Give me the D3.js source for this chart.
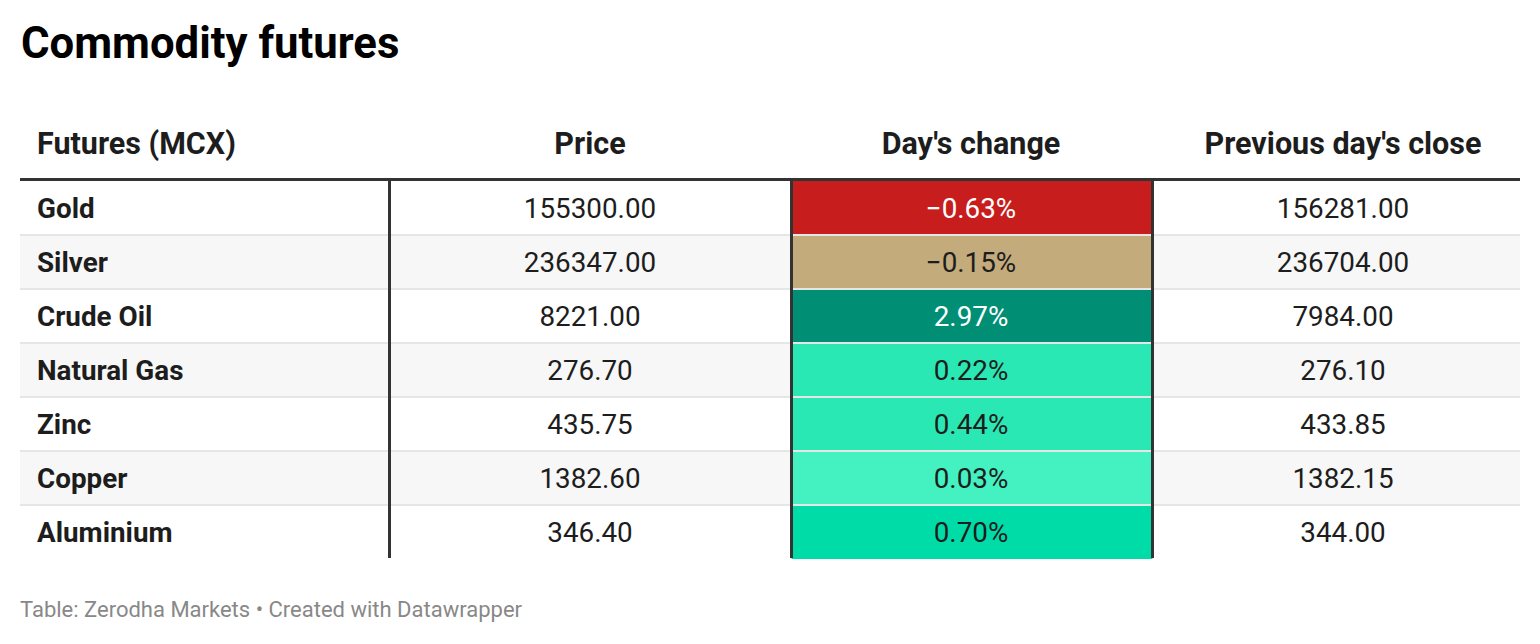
<!DOCTYPE html>
<html>
<head>
<meta charset="utf-8">
<script src="https://cdn.jsdelivr.net/npm/d3@7"></script>
<style>
  html, body { margin: 0; padding: 0; background: #fff; }
  svg { display: block; font-family: Roboto, "Noto Sans", sans-serif; }
</style>
</head>
<body>
<svg id="chart" width="1540" height="644"></svg>
<script>
// ---- data ----
const title = "Commodity futures";
const headers = ["Futures (MCX)", "Price", "Day's change", "Previous day's close"];
const commodities = ["Gold", "Silver", "Crude Oil", "Natural Gas", "Zinc", "Copper", "Aluminium"];
const prices = [155300.00, 236347.00, 8221.00, 276.70, 435.75, 1382.60, 346.40];
const changes = [-0.63, -0.15, 2.97, 0.22, 0.44, 0.03, 0.70];
const prevClose = [156281.00, 236704.00, 7984.00, 276.10, 433.85, 1382.15, 344.00];
const footer = "Table: Zerodha Markets • Created with Datawrapper";

// ---- layout ----
const left = 20, right = 1520;
const colEdges = [20, 389.5, 791.5, 1152.5, 1520];
const colCenters = [null, 590, 971, 1343];
const headerLineY = 179.5;
const rowTop = 181, rowH = 54;

const svg = d3.select("#chart");
const fmt = d3.format(".2f");
const pct = v => d3.format(".2f")(v) + "%";

const y = d3.scaleBand().domain(d3.range(commodities.length))
  .range([rowTop, rowTop + rowH * commodities.length]);

const colorScale = d3.scaleThreshold()
  .domain([-0.5, 0, 0.1, 0.6, 1.5])
  .range(["#c71e1d", "#c4ab7c", "#43f2c0", "#2ae8b4", "#00dca8", "#008f74"]);
const textColor = v => (v < -0.5 || v > 1.5) ? "#ffffff" : "#1d1d1d";

// title
svg.append("text").attr("x", 21).attr("y", 58)
  .attr("font-size", 43.7).attr("font-weight", 700).attr("fill", "#000")
  .text(title);

// headers
svg.selectAll("text.hdr").data(headers).join("text")
  .attr("class", "hdr")
  .attr("x", (d, i) => i === 0 ? 37 : colCenters[i])
  .attr("y", 154)
  .attr("text-anchor", (d, i) => i === 0 ? "start" : "middle")
  .attr("font-size", 30.5).attr("font-weight", 700).attr("fill", "#1d1d1d")
  .text(d => d);

const rows = commodities.map((c, i) => ({ i, name: c, price: prices[i], change: changes[i], prev: prevClose[i] }));

// row stripes
svg.selectAll("rect.stripe").data(rows.filter(r => r.i % 2 === 1)).join("rect")
  .attr("class", "stripe")
  .attr("x", left).attr("width", right - left)
  .attr("y", r => y(r.i)).attr("height", y.bandwidth())
  .attr("fill", "#f7f7f7");

// colored change cells
svg.selectAll("rect.chg").data(rows).join("rect")
  .attr("class", "chg")
  .attr("x", colEdges[2]).attr("width", colEdges[3] - colEdges[2])
  .attr("y", r => y(r.i)).attr("height", y.bandwidth())
  .attr("fill", r => colorScale(r.change));

// row separators
svg.selectAll("line.sep").data(rows.slice(0, rows.length - 1)).join("line")
  .attr("class", "sep")
  .attr("x1", left).attr("x2", right)
  .attr("y1", r => y(r.i) + y.bandwidth()).attr("y2", r => y(r.i) + y.bandwidth())
  .attr("stroke", "#e6e6e6").attr("stroke-width", 2);

// header bottom line
svg.append("line").attr("x1", left).attr("x2", right)
  .attr("y1", headerLineY).attr("y2", headerLineY)
  .attr("stroke", "#333").attr("stroke-width", 3);

// vertical lines
svg.selectAll("line.vline").data([colEdges[1], colEdges[2], colEdges[3]]).join("line")
  .attr("class", "vline")
  .attr("x1", d => d).attr("x2", d => d)
  .attr("y1", headerLineY).attr("y2", rowTop + rowH * rows.length - 1)
  .attr("stroke", "#333").attr("stroke-width", 3);

// cell texts
const g = svg.selectAll("g.row").data(rows).join("g").attr("class", "row")
  .attr("transform", r => `translate(0,${y(r.i) + 37})`);

g.append("text").attr("x", 37).attr("font-size", 27.8).attr("font-weight", 700)
  .attr("fill", "#1d1d1d").text(r => r.name);
g.append("text").attr("x", colCenters[1]).attr("text-anchor", "middle").attr("font-size", 27.8)
  .attr("fill", "#1d1d1d").text(r => fmt(r.price));
g.append("text").attr("x", colCenters[2]).attr("text-anchor", "middle").attr("font-size", 27.8)
  .attr("fill", r => textColor(r.change)).text(r => pct(r.change));
g.append("text").attr("x", colCenters[3]).attr("text-anchor", "middle").attr("font-size", 27.8)
  .attr("fill", "#1d1d1d").text(r => fmt(r.prev));

// footer
svg.append("text").attr("x", 20).attr("y", 617)
  .attr("font-size", 22).attr("fill", "#888").text(footer);
</script>
</body>
</html>
